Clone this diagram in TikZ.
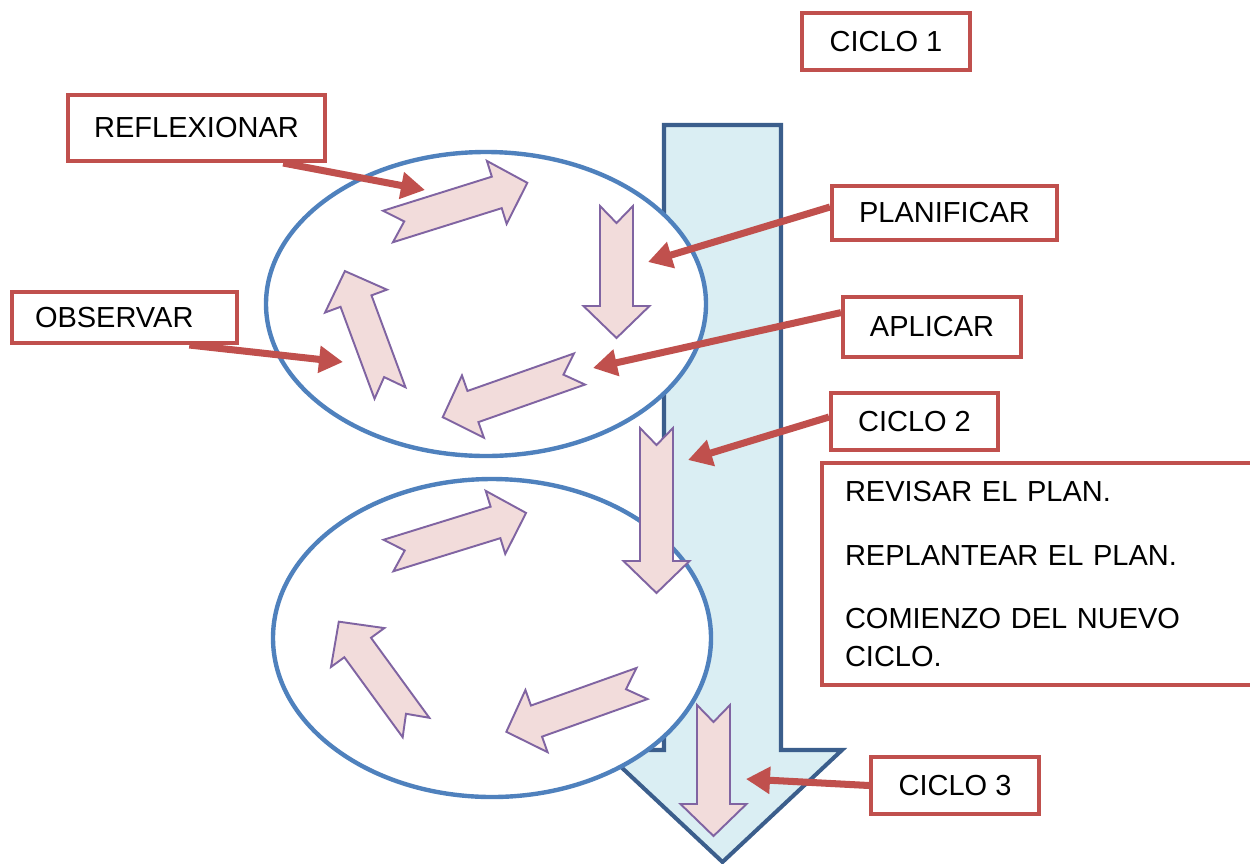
\documentclass[tikz,border=0pt]{standalone}
\usepackage{fontspec}
\setmainfont{Liberation Sans}
\usetikzlibrary{arrows.meta}

\definecolor{shaftfill}{HTML}{DAEEF3}
\definecolor{shaftline}{HTML}{3B5E8C}
\definecolor{ringblue}{HTML}{4F81BD}
\definecolor{arrowpink}{HTML}{F2DCDB}
\definecolor{arrowpurple}{HTML}{8064A2}
\definecolor{calloutred}{HTML}{C0504D}

\tikzset{pics/cyclearrow/.style={code={
  \draw[pinkarrow] (0,16.5) -- (#1-32,16.5) -- (#1-32,33) -- (#1,0) -- (#1-32,-33)
     -- (#1-32,-16.5) -- (0,-16.5) -- (17,0) -- cycle;
}}}

\begin{document}
\begin{tikzpicture}[x=0.02cm,y=-0.02cm,
  callbox/.style={draw=calloutred,line width=2.3pt,fill=white,inner sep=0pt,
    font=\fontsize{16.5}{21.6}\selectfont},
  callarrow/.style={draw=calloutred,line width=4pt,
    -{Triangle[length=0.48cm,width=0.52cm]}},
  pinkarrow/.style={draw=arrowpurple,fill=arrowpink,line width=1.1pt},
  ringline/.style={draw=ringblue,line width=2.5pt,fill=white}]
\clip (0,0) rectangle (1250,863);
%\draw[step=50,lightgray,very thin] (0,0) grid (1250,863);

% big arrow
\draw[shaftline,fill=shaftfill,line width=2.3pt,line join=miter]
  (664,125) -- (781,125) -- (781,750) -- (842,750) -- (722.5,862)
  -- (603,750) -- (664,750) -- cycle;

\draw[ringline] (486,304) ellipse [x radius=220,y radius=152];
\draw[ringline] (492,638) ellipse [x radius=219,y radius=159];

% cycle 1
\pic[rotate=17.4] at (388,226.5) {cyclearrow=146};
\pic[rotate=-90] at (616.5,206) {cyclearrow=132};
\pic[rotate=199.4] at (579.5,369) {cyclearrow=145};
\pic[rotate=110.3] at (390,393) {cyclearrow=130};

\pic[rotate=-90] at (656.5,428) {cyclearrow=165};

% cycle 2
\pic[rotate=17.2] at (388.5,555.5) {cyclearrow=144};
\pic[rotate=199.6] at (642,683.5) {cyclearrow=144};
\pic[rotate=126.1] at (416,727.5) {cyclearrow=131};

\pic[rotate=-90] at (713.5,705) {cyclearrow=131};

\node[callbox,minimum width=3.36cm,minimum height=1.14cm] (ciclo1) at (886,41.5) {CICLO 1};
\node[callbox,minimum width=5.14cm,minimum height=1.32cm] (reflexionar) at (196.5,128) {REFLEXIONAR};
\node[callbox,minimum height=1.02cm,text width=3.58cm,
  inner xsep=0.46cm,align=left] (observar) at (124.5,317.5) {OBSERVAR};
\node[callbox,minimum width=4.5cm,minimum height=1.08cm] (planificar) at (944.5,213) {PLANIFICAR};
\node[callbox,minimum width=3.56cm,minimum height=1.2cm] (aplicar) at (932,327) {APLICAR};
\node[callbox,minimum width=3.34cm,minimum height=1.14cm] (ciclo2) at (914.5,421.5) {CICLO 2};
\node[callbox,minimum width=3.36cm,minimum height=1.14cm] (ciclo3) at (955,785.5) {CICLO 3};
\node[callbox,anchor=north west,minimum height=4.44cm,
  inner xsep=0.46cm,text width=9.08cm,align=left] (newplan) at (820,461)
  {REVISAR EL PLAN.\\[0.52cm]REPLANTEAR EL PLAN.\\[0.52cm]COMIENZO DEL NUEVO\\CICLO.};

\coordinate (tipreflex) at (425,190);
\coordinate (tipobs) at (343,362);
\coordinate (tipplan) at (648,262);
\coordinate (tipapl) at (593,368);
\coordinate (tipc2) at (688,460);
\coordinate (tipc3) at (746,779);

\draw[callarrow] (reflexionar.-22) -- (tipreflex);
\draw[callarrow] (observar.-23) -- (tipobs);
\draw[callarrow] (planificar.177) -- (tipplan);
\draw[callarrow] (aplicar.171) -- (tipapl);
\draw[callarrow] (ciclo2.177) -- (tipc2);
\draw[callarrow] (ciclo3.west) -- (tipc3);

\end{tikzpicture}
\end{document}
